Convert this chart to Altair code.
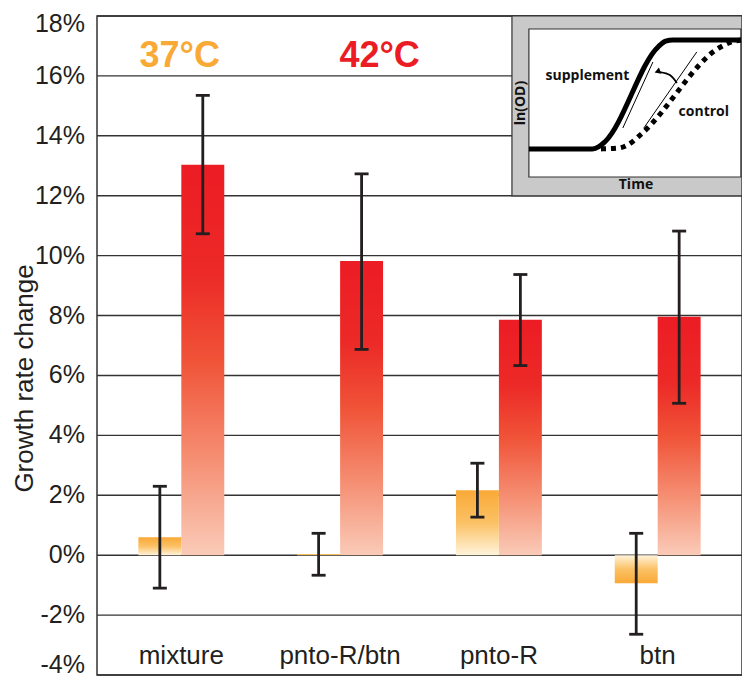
import altair as alt
import pandas as pd

# ---------------- data ----------------
categories = ["mixture", "pnto-R/btn", "pnto-R", "btn"]
temps = ["37°C", "42°C"]
growth_37 = [0.60, 0.04, 2.17, -0.94]
err_lo_37 = [-1.10, -0.67, 1.27, -2.64]
err_hi_37 = [2.30, 0.73, 3.07, 0.73]
growth_42 = [13.03, 9.82, 7.86, 7.96]
err_lo_42 = [10.73, 6.87, 6.33, 5.07]
err_hi_42 = [15.35, 12.73, 9.37, 10.82]
y_ticks = [-4, -2, 0, 2, 4, 6, 8, 10, 12, 14, 16, 18]
y_title = "Growth rate change"

# inset schematic: ln(OD) vs Time (units: % of the inner panel)
sup_time = [0, 30, 33, 36, 61, 64.5, 68, 100]
sup_lnod = [19, 19, 20.5, 24, 88, 91.8, 92.6, 92.6]
ctl_time = [34, 42, 47, 53, 90, 95, 100]
ctl_lnod = [19, 19.5, 22, 29, 87.5, 91, 92.6]
tan_sup_time = [44.3, 58.5]
tan_sup_lnod = [33.1, 77.7]
tan_ctl_time = [54.2, 79.2]
tan_ctl_lnod = [33.1, 84.5]
arrow_time = [69.8, 66.5, 61.8]
arrow_lnod = [63.5, 68.9, 70.9]

# ---------------- layout / styling constants ----------------
W, H = 645, 659
DARK = "#231f20"
ORANGE = "#f9a936"
RED = "#ec1c24"
FONT = "Liberation Sans"
IFONT = "Open Sans"
X_DOMAIN = [-0.531, 3.531]      # category slots 0..3
Y_DOMAIN = [-4, 18]
BAR_W = 0.2705                  # width of one bar in slot units
# inset placement inside the main coordinate system
IN_X0, IN_KX = 2.189, 0.01335   # slot units at t=0, per inset unit
IN_Y0, IN_KY = 12.625, 0.04941  # percent at v=0, per inset unit

rows = []
for i, c in enumerate(categories):
    rows.append(dict(category=c, idx=i, temp=temps[0], side=-1, value=growth_37[i], lo=err_lo_37[i], hi=err_hi_37[i]))
    rows.append(dict(category=c, idx=i, temp=temps[1], side=1, value=growth_42[i], lo=err_lo_42[i], hi=err_hi_42[i]))
bars = pd.DataFrame(rows)

XS = alt.Scale(domain=X_DOMAIN, nice=False, zero=False)
YS = alt.Scale(domain=Y_DOMAIN, nice=False, zero=False)


def X(f):
    return alt.X(f, scale=XS, axis=None, title=None)


def Y(f):
    return alt.Y(f, scale=YS, axis=None, title=None)


def XD(v):
    return alt.XDatum(v, scale=XS, axis=None)


def YD(v):
    return alt.YDatum(v, scale=YS, axis=None)


# ---------------- y axis: grid, labels, title ----------------
tick_df = pd.DataFrame({"tick": y_ticks})
grid = alt.Chart(tick_df).mark_rule(color="#333333", strokeWidth=1.4).encode(
    x=XD(X_DOMAIN[0]), x2=alt.datum(X_DOMAIN[1]), y=Y("tick:Q")
)


def tick_text(expr, dy):
    return alt.Chart(tick_df).transform_filter(expr).transform_calculate(
        label="datum.tick + '%'"
    ).mark_text(
        font=FONT, fontSize=25, color=DARK, align="right", baseline="middle", dx=-12, dy=dy
    ).encode(x=XD(X_DOMAIN[0]), y=Y("tick:Q"), text="label:N")


tick_mid = tick_text(f"datum.tick > {Y_DOMAIN[0]} && datum.tick < {Y_DOMAIN[1]}", 0)
tick_top = tick_text(f"datum.tick >= {Y_DOMAIN[1]}", 8)
tick_bot = tick_text(f"datum.tick <= {Y_DOMAIN[0]}", -10)
axis_title = alt.Chart(pd.DataFrame({"label": [y_title]})).mark_text(
    font=FONT, fontSize=26, color=DARK, align="center", baseline="alphabetic", angle=270
).encode(x=XD(-0.931), y=YD(5.9), text="label:N")

# ---------------- bars and error bars ----------------
grad_orange_up = {"gradient": "linear", "x1": 0, "x2": 0, "y1": 1, "y2": 0,
                  "stops": [{"offset": 0, "color": "#fff3da"},
                            {"offset": 0.5, "color": "#fbc165"},
                            {"offset": 1, "color": ORANGE}]}
grad_orange_down = {"gradient": "linear", "x1": 0, "x2": 0, "y1": 0, "y2": 1,
                    "stops": [{"offset": 0, "color": "#fff3da"},
                              {"offset": 0.5, "color": "#fbc165"},
                              {"offset": 1, "color": ORANGE}]}
grad_red = {"gradient": "linear", "x1": 0, "x2": 0, "y1": 1, "y2": 0,
            "stops": [{"offset": 0, "color": "#facbb8"},
                      {"offset": 0.25, "color": "#f58e72"},
                      {"offset": 0.5, "color": "#f05338"},
                      {"offset": 0.72, "color": "#ec2a27"},
                      {"offset": 1, "color": RED}]}

base = alt.Chart(bars).transform_calculate(
    x0=f"datum.idx + (datum.side < 0 ? -{BAR_W} : 0)",
    x1=f"datum.idx + (datum.side < 0 ? 0 : {BAR_W})",
    xc=f"datum.idx + datum.side * {BAR_W / 2}",
)

red_bars = base.transform_filter("datum.side > 0").mark_rect(color=grad_red).encode(
    x=X("x0:Q"), x2="x1:Q", y=Y("value:Q"), y2=alt.datum(0),
)
orange_pos = base.transform_filter("datum.side < 0 && datum.value >= 0").mark_rect(color=grad_orange_up).encode(
    x=X("x0:Q"), x2="x1:Q", y=Y("value:Q"), y2=alt.datum(0),
)
orange_neg = base.transform_filter("datum.side < 0 && datum.value < 0").mark_rect(color=grad_orange_down).encode(
    x=X("x0:Q"), x2="x1:Q", y=Y("value:Q"), y2=alt.datum(0),
)
err_rule = base.mark_rule(color=DARK, strokeWidth=2.8).encode(
    x=X("xc:Q"), y=Y("lo:Q"), y2="hi:Q",
)
err_caps = base.transform_fold(["lo", "hi"], as_=["end", "yv"]).mark_tick(
    color=DARK, size=14, thickness=2.8, orient="horizontal", opacity=1
).encode(x=X("xc:Q"), y=Y("yv:Q"))

cat_df = pd.DataFrame({"category": categories, "idx": list(range(len(categories)))})
cat_labels = alt.Chart(cat_df).mark_text(
    font=FONT, fontSize=26, color=DARK, baseline="alphabetic", align="center"
).encode(x=X("idx:Q"), y=YD(-3.62), text="category:N")

t37 = alt.Chart(pd.DataFrame({"label": [temps[0]]})).mark_text(
    font=FONT, fontSize=36, fontWeight="bold", color=ORANGE, baseline="alphabetic", align="center"
).encode(x=XD(-0.01), y=YD(16.29), text="label:N")
t42 = alt.Chart(pd.DataFrame({"label": [temps[1]]})).mark_text(
    font=FONT, fontSize=36, fontWeight="bold", color=RED, baseline="alphabetic", align="center"
).encode(x=XD(1.249), y=YD(16.29), text="label:N")


# ---------------- inset (mapped into the main scales) ----------------
def inset_chart(df):
    return alt.Chart(df).transform_calculate(
        xm=f"{IN_X0} + datum.t * {IN_KX}",
        ym=f"{IN_Y0} + datum.v * {IN_KY}",
    )


frame = pd.DataFrame({"t": [-8.0, 0], "t2": [100.5, 100], "v": [-12.8, 0], "v2": [108.8, 100],
                      "fill": ["#c9c9c9", "#ffffff"], "o": [0, 1]})
frame_l = alt.Chart(frame).transform_calculate(
    xm=f"{IN_X0} + datum.t * {IN_KX}", xm2=f"{IN_X0} + datum.t2 * {IN_KX}",
    ym=f"{IN_Y0} + datum.v * {IN_KY}", ym2=f"{IN_Y0} + datum.v2 * {IN_KY}",
).mark_rect(stroke="#333333", strokeWidth=1.2).encode(
    x=X("xm:Q"), x2="xm2:Q", y=Y("ym:Q"), y2="ym2:Q",
    fill=alt.Fill("fill:N", scale=None), order="o:Q",
)


def line_df(ts, vs, name="a"):
    return pd.DataFrame({"t": ts, "v": vs, "i": list(range(len(ts))), "g": [name] * len(ts)})


sup_l = inset_chart(line_df(sup_time, sup_lnod)).mark_line(
    color="#000000", strokeWidth=5, interpolate="monotone"
).encode(x=X("xm:Q"), y=Y("ym:Q"), order="i:Q")
ctl_l = inset_chart(line_df(ctl_time, ctl_lnod)).mark_line(
    color="#000000", strokeWidth=5, interpolate="monotone", strokeDash=[5, 5], strokeCap="butt"
).encode(x=X("xm:Q"), y=Y("ym:Q"), order="i:Q")
tan_df = pd.concat([line_df(tan_sup_time, tan_sup_lnod, "s"), line_df(tan_ctl_time, tan_ctl_lnod, "c")])
tan_l = inset_chart(tan_df).mark_line(color="#000000", strokeWidth=1).encode(
    x=X("xm:Q"), y=Y("ym:Q"), order="i:Q", detail="g:N"
)
arr_l = inset_chart(line_df(arrow_time, arrow_lnod)).mark_line(
    color="#000000", strokeWidth=1.8, interpolate="natural"
).encode(x=X("xm:Q"), y=Y("ym:Q"), order="i:Q")
arr_head = inset_chart(pd.DataFrame({"t": [arrow_time[-1] - 1.2], "v": [arrow_lnod[-1] + 0.3]})).mark_point(
    shape="triangle-left", filled=True, size=45, color="#000000", opacity=1, angle=340
).encode(x=X("xm:Q"), y=Y("ym:Q"))

inset_text = pd.DataFrame({
    "t": [27.6, 82.5, 50.5],
    "v": [68.2, 43.9, -5.4],
    "label": ["supplement", "control", "Time"],
})
itext = inset_chart(inset_text).mark_text(
    font=IFONT, fontSize=14, fontWeight="bold", color="#111111", baseline="middle", align="center"
).encode(x=X("xm:Q"), y=Y("ym:Q"), text="label:N")
ylab = inset_chart(pd.DataFrame({"t": [-3.6], "v": [50], "label": ["ln(OD)"]})).mark_text(
    font=IFONT, fontSize=14, fontWeight="bold", color="#111111", baseline="middle", align="center", angle=270
).encode(x=X("xm:Q"), y=Y("ym:Q"), text="label:N")

chart = alt.layer(
    grid, tick_mid, tick_top, tick_bot, axis_title,
    red_bars, orange_pos, orange_neg, err_rule, err_caps, cat_labels, t37, t42,
    frame_l, sup_l, ctl_l, tan_l, arr_l, arr_head, itext, ylab,
).properties(
    width=W, height=H,
    autosize=alt.AutoSizeParams(type="none"),
    padding={"left": 89, "top": 8, "right": 0, "bottom": 3},
    background="#ffffff",
).configure_view(stroke="#333333", strokeWidth=1.5)

chart.save("out.html", embed_options={"renderer": "svg", "actions": False})
